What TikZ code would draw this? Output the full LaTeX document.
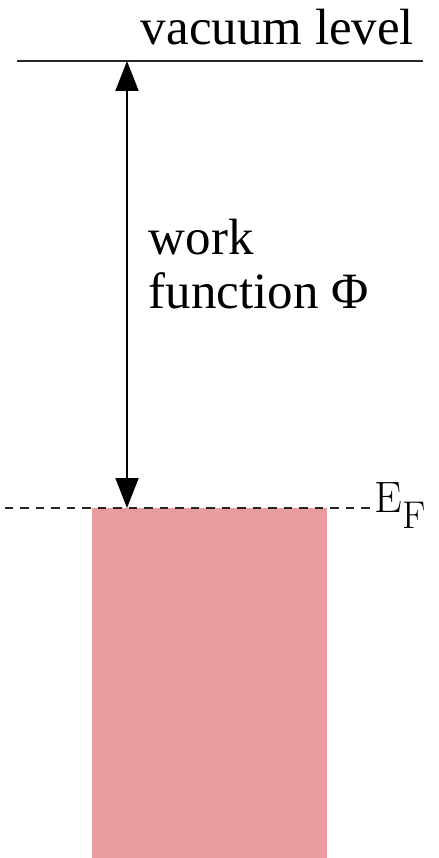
\documentclass[tikz,border=0pt]{standalone}
\usepackage{fontspec}
\setmainfont{Liberation Serif}
\newfontfamily\lmfont{Latin Modern Roman}
\usepackage{tikz}
\usetikzlibrary{arrows.meta,positioning}

\definecolor{bandred}{RGB}{232,156,158}

\begin{document}
\begin{tikzpicture}[x=0.02cm, y=-0.02cm, line width=1.1pt,
    every node/.style={font=\fontsize{29}{34}\selectfont, inner sep=0pt},
    level/.style={draw=black!85},
    fermi/.style={draw=black!85, dash pattern=on 0.17cm off 0.14cm},
    gap/.style={{Triangle[length=0.6cm, width=0.46cm]}-{Triangle[length=0.6cm, width=0.46cm]}}]
  \useasboundingbox (0,0) rectangle (439,858);

  % filled band below the Fermi level
  \fill[bandred] (92,508) rectangle (327,858);

  % vacuum and Fermi levels
  \coordinate (vacL) at (17,61);
  \coordinate (vacR) at (423,61);
  \coordinate (ferL) at (5,508);
  \coordinate (ferR) at (372,508);
  \draw[level] (vacL) -- (vacR);
  \draw[fermi] (ferL) -- (ferR);

  \coordinate (top) at (127,61);
  \coordinate (bot) at (127,508);
  \draw[gap] (bot) -- (top);

  % labels
  \node[anchor=base east] (vaclabel) at (415,45) {vacuum level};
  \node[anchor=base west] (work) at (148,255) {work};
  \node[anchor=base west] (func) at (148,308) {function Φ};
  \node[anchor=base west, font=\lmfont\fontsize{25}{30}\selectfont] (ef) at (374,512)
    {E\raisebox{-0.32cm}{\fontsize{22}{26}\selectfont F}};
\end{tikzpicture}
\end{document}
